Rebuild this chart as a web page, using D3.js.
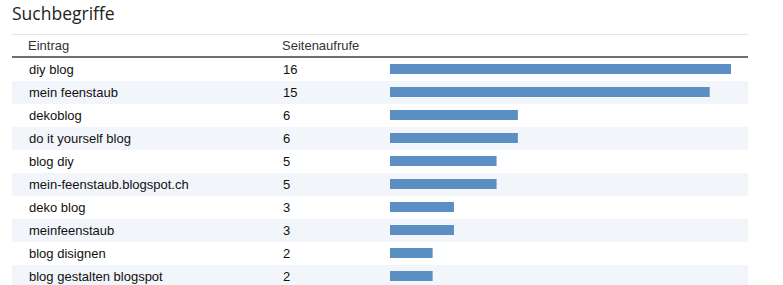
<!DOCTYPE html>
<html>
<head>
<meta charset="utf-8">
<script src="https://cdn.jsdelivr.net/npm/d3@7"></script>
<style>
  body { margin: 0; background: #fff; }
  svg { display: block; }
</style>
</head>
<body>
<div id="chart"></div>
<script>
const title = 'Suchbegriffe'
const headers = ['Eintrag', 'Seitenaufrufe']
const terms = ['diy blog', 'mein feenstaub', 'dekoblog', 'do it yourself blog', 'blog diy',
  'mein-feenstaub.blogspot.ch', 'deko blog', 'meinfeenstaub', 'blog disignen', 'blog gestalten blogspot']
const views = [16, 15, 6, 6, 5, 5, 3, 3, 2, 2]

const W = 783, H = 285
const left = 12, right = 748
const rowTop = 58, rowH = 23

const svg = d3.select('#chart').append('svg')
  .attr('width', W)
  .attr('height', H)

const y = d3.scaleBand()
  .domain(terms)
  .range([rowTop, rowTop + rowH * terms.length])
  .padding(0)

const x = d3.scaleLinear()
  .domain([0, 16])
  .range([390, 731])

// title
svg.append('text')
  .attr('x', left)
  .attr('y', 20)
  .attr('font-family', 'Open Sans')
  .attr('font-size', 17.5)
  .attr('fill', '#222')
  .text(title)

svg.append('line')
  .attr('x1', left).attr('x2', right)
  .attr('y1', 34.5).attr('y2', 34.5)
  .attr('stroke', '#e6e6e6')

// header
svg.selectAll('text.head')
  .data(headers)
  .enter()
  .append('text')
  .attr('class', 'head')
  .attr('x', (d, i) => i === 0 ? 28 : 282)
  .attr('y', 50)
  .attr('font-family', 'Liberation Sans, Arial, sans-serif')
  .attr('font-size', 13)
  .attr('fill', '#333')
  .text(d => d)

// stripes
svg.selectAll('rect.row')
  .data(terms)
  .enter()
  .append('rect')
  .attr('class', 'row')
  .attr('x', left)
  .attr('width', right - left)
  .attr('y', d => y(d))
  .attr('height', y.bandwidth())
  .attr('fill', (d, i) => i % 2 ? '#f2f5fa' : '#fff')

svg.append('line')
  .attr('x1', left).attr('x2', right)
  .attr('y1', 57).attr('y2', 57)
  .attr('stroke', '#6f6f6f')
  .attr('stroke-width', 2)

const rows = svg.selectAll('g.entry')
  .data(terms)
  .enter()
  .append('g')
  .attr('class', 'entry')
  .attr('transform', d => `translate(0,${y(d)})`)

rows.append('text')
  .attr('x', 29)
  .attr('y', 16)
  .attr('font-family', 'Liberation Sans, Arial, sans-serif')
  .attr('font-size', 13)
  .attr('fill', '#111')
  .text(d => d)

rows.append('text')
  .attr('x', 283)
  .attr('y', 16)
  .attr('font-family', 'Liberation Sans, Arial, sans-serif')
  .attr('font-size', 13)
  .attr('fill', '#111')
  .text((d, i) => views[i])

rows.append('rect')
  .attr('x', x(0))
  .attr('y', 6)
  .attr('width', (d, i) => x(views[i]) - x(0))
  .attr('height', 10)
  .attr('fill', '#5b8fc4')
</script>
</body>
</html>
